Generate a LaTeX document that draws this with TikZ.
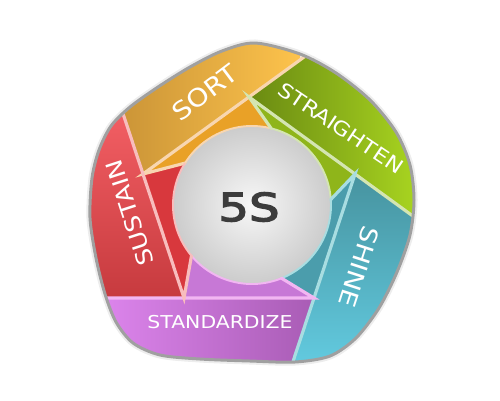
\documentclass[tikz,border=0pt]{standalone}
\usepackage{fontspec}
\usetikzlibrary{calc}
\newfontfamily\labelfont[FakeStretch=1.15]{DejaVu Sans}
\newfontfamily\fivefont[FakeStretch=1.25, FakeBold=3.5]{DejaVu Sans}

\definecolor{sortlite}{HTML}{FDC34C}
\definecolor{sortdark}{HTML}{C48E34}
\definecolor{sortflap}{HTML}{E9A127}
\definecolor{sortline}{HTML}{F8D6B0}
\definecolor{strlite}{HTML}{A8D420}
\definecolor{strdark}{HTML}{6A8A12}
\definecolor{strflap}{HTML}{8FB51A}
\definecolor{strline}{HTML}{D4E5B2}
\definecolor{shinelite}{HTML}{62CADF}
\definecolor{shinedark}{HTML}{46929E}
\definecolor{shineflap}{HTML}{4B9DAC}
\definecolor{shineline}{HTML}{A8DDE1}
\definecolor{stdlite}{HTML}{DE86EE}
\definecolor{stddark}{HTML}{A65AB2}
\definecolor{stdflap}{HTML}{C778D6}
\definecolor{stdline}{HTML}{F2B6F2}
\definecolor{suslite}{HTML}{F46065}
\definecolor{susdark}{HTML}{C63A3E}
\definecolor{susflap}{HTML}{D8383D}
\definecolor{susline}{HTML}{F8BDBD}
\definecolor{rimgray}{HTML}{A0A0A0}
\definecolor{fivegray}{HTML}{3C3C3C}

\newcommand{\outlinepath}{plot[smooth cycle] coordinates {(255,43) (300,54) (336,73) (370,100) (396,132) (410,165) (414,200) (410,235) (397,272) (379,308) (356,338) (330,356) (295,362) (250,361) (200,359) (160,355) (133,343) (116,322) (105,294) (96,258) (90,218) (92,178) (99,150) (111,126) (130,107) (158,87) (190,67) (222,51)}}

\begin{document}
\begin{tikzpicture}[x=0.02cm, y=-0.02cm,
    lbl/.style={text=white, inner sep=0pt, font=\labelfont\fontsize{#1}{#1}\selectfont},
    sepline/.style={line width=1.8pt, line cap=round},
    arcline/.style={line width=1.1pt}]
    \useasboundingbox (0,0) rectangle (500,400);
    % inner pentagon, disc and flap tips
    \coordinate (C) at (252,205);
    \coordinate (Top) at (249,97);
    \coordinate (Rt) at (355,174);
    \coordinate (BR) at (314,298);
    \coordinate (BL) at (184,298);
    \coordinate (Lf) at (143,174);
    \coordinate (tTop) at ($(C)+(284:79)$);
    \coordinate (tRt) at ($(C)+(356:79)$);
    \coordinate (tBR) at ($(C)+(68:79)$);
    \coordinate (tBL) at ($(C)+(140:79)$);
    \coordinate (tLf) at ($(C)+(212:79)$);

    \draw[black!7, line width=4pt] \outlinepath;
    \begin{scope}
    \clip \outlinepath;
    % bands
    \begin{scope}
        \clip (Lf) -- ($(Lf)!3!(Top)$) -- ($(BL)!3!(Lf)$) -- cycle;
        \shade[left color=sortdark, right color=sortlite] (95,40) rectangle (300,180);
    \end{scope}
    \begin{scope}
        \clip (Top) -- ($(Top)!3!(Rt)$) -- ($(Lf)!3!(Top)$) -- cycle;
        \shade[left color=strdark, right color=strlite] (250,50) rectangle (416,215);
    \end{scope}
    \begin{scope}
        \clip (Rt) -- ($(Rt)!3!(BR)$) -- ($(Top)!3!(Rt)$) -- cycle;
        \shade[top color=shinedark, bottom color=shinelite] (285,170) rectangle (416,364);
    \end{scope}
    \begin{scope}
        \clip (BR) -- ($(BR)!3!(BL)$) -- ($(Rt)!3!(BR)$) -- cycle;
        \shade[left color=stdlite, right color=stddark] (95,295) rectangle (325,364);
    \end{scope}
    \begin{scope}
        \clip (BL) -- ($(BL)!3!(Lf)$) -- ($(BR)!3!(BL)$) -- cycle;
        \shade[top color=suslite, bottom color=susdark] (85,105) rectangle (190,300);
    \end{scope}
    % flaps
    \fill[sortflap] (Lf) -- (Top) -- (tTop) -- (C) -- (tLf) -- cycle;
    \fill[strflap] (Top) -- (Rt) -- (tRt) -- (C) -- (tTop) -- cycle;
    \fill[shineflap] (Rt) -- (BR) -- (tBR) -- (C) -- (tRt) -- cycle;
    \fill[stdflap] (BR) -- (BL) -- (tBL) -- (C) -- (tBR) -- cycle;
    \fill[susflap] (BL) -- (Lf) -- (tLf) -- (C) -- (tBL) -- cycle;
    \shade[inner color=white!97!black, outer color=black!20] (C) circle[radius=79];
    % light edges
    \draw[sepline, sortline] ($(Lf)!3!(Top)$) -- (Lf) -- (tLf);
    \draw[arcline, sortline] (tLf) arc[start angle=212, end angle=284, radius=79];
    \draw[sepline, strline] ($(Top)!3!(Rt)$) -- (Top) -- (tTop);
    \draw[arcline, strline] (tTop) arc[start angle=284, end angle=356, radius=79];
    \draw[sepline, shineline] ($(Rt)!3!(BR)$) -- (Rt) -- (tRt);
    \draw[arcline, shineline] (tRt) arc[start angle=356, end angle=428, radius=79];
    \draw[sepline, stdline] ($(BR)!3!(BL)$) -- (BR) -- (tBR);
    \draw[arcline, stdline] (tBR) arc[start angle=68, end angle=140, radius=79];
    \draw[sepline, susline] ($(BL)!3!(Lf)$) -- (BL) -- (tBL);
    \draw[arcline, susline] (tBL) arc[start angle=140, end angle=212, radius=79];
    \end{scope}
    \draw[rimgray, line width=1.7pt] \outlinepath;

    \node[lbl=14, rotate=37] (sortlbl) at (205,93) {SORT};
    \node[lbl=11.3, rotate=-34] (straightenlbl) at (341,128) {STRAIGHTEN};
    \node[lbl=13.5, rotate=-108] (shinelbl) at (359,267) {SHINE};
    \node[lbl=10.1] (standardizelbl) at (220,322) {STANDARDIZE};
    \node[lbl=12.7, rotate=108] (sustainlbl) at (130,213) {SUSTAIN};
    \node[text=fivegray, inner sep=0pt, font=\fivefont\fontsize{22}{22}\selectfont] (fiveS) at (249,207) {5S};
\end{tikzpicture}
\end{document}
